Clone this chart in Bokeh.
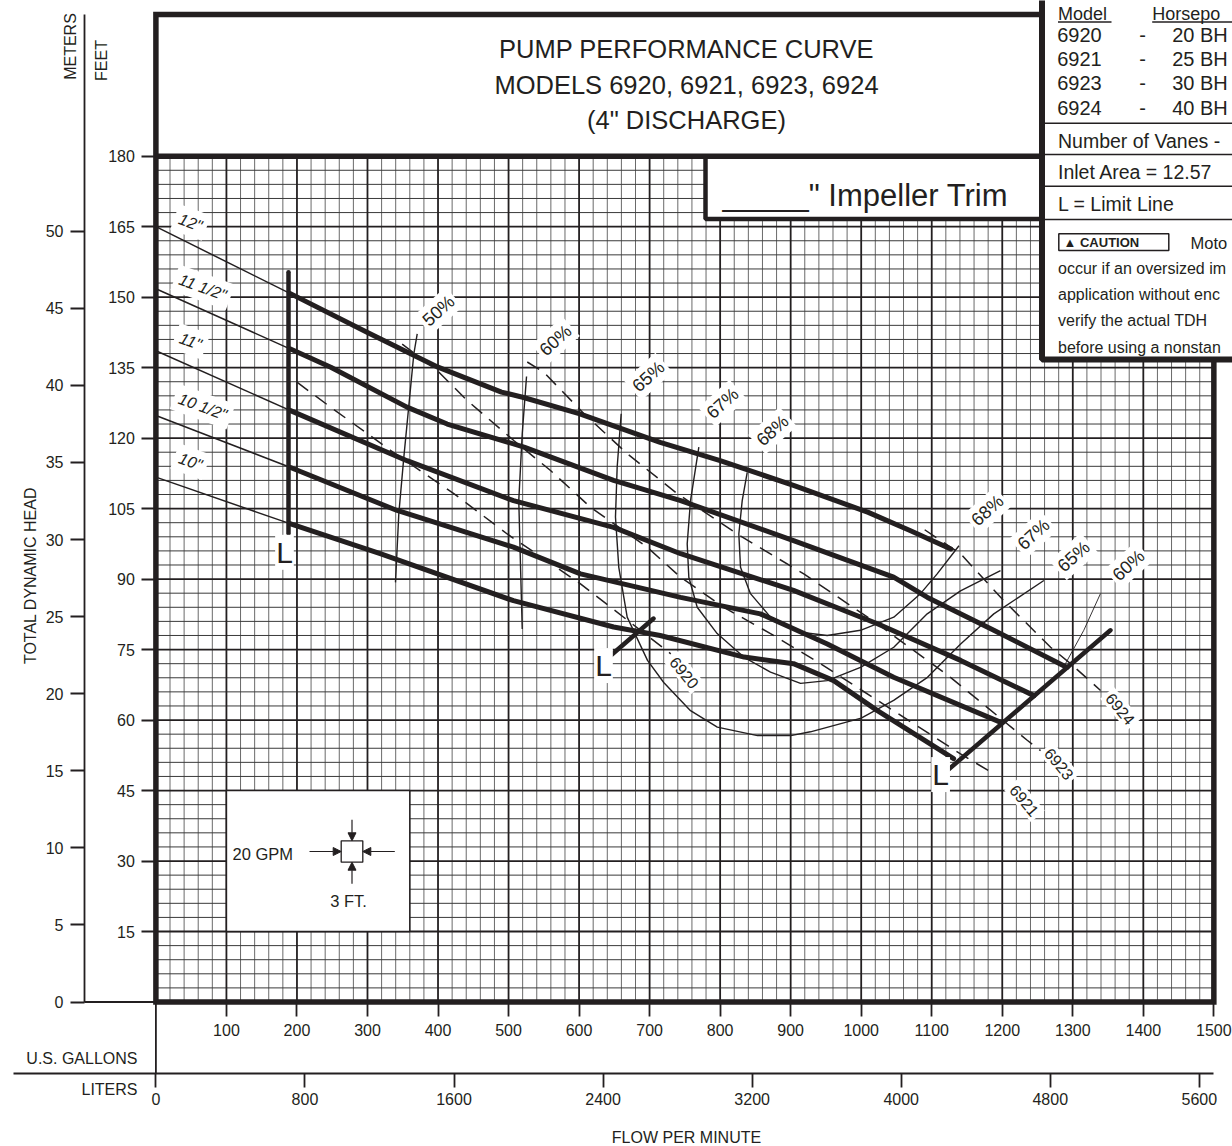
import numpy as np
from bokeh.plotting import figure
from bokeh.models import Range1d, LinearAxis, FixedTicker, Arrow, NormalHead
from bokeh.core.properties import value
from bokeh.embed import file_html
from bokeh.resources import INLINE

# ---------------- data ----------------
gpm_ticks = list(range(100, 1501, 100))
feet_ticks = list(range(15, 181, 15))
meter_ticks = list(range(0, 51, 5))
liter_ticks = list(range(0, 5601, 800))

diameters = ['12"', '11 1/2"', '11"', '10 1/2"', '10"']
gpm_12 = [0, 190, 300, 400, 490, 520, 600, 715, 800, 905, 1010, 1070, 1127]
ft_12 = [165, 150.8, 142.5, 135.1, 129.8, 128.7, 125.2, 119.1, 115.2, 109.9, 104.2, 100.3, 96.4]
gpm_115 = [0, 190, 248, 356, 413, 522, 649, 744, 904, 1046, 1094, 1188, 1292]
ft_115 = [151.8, 139.0, 135.1, 126.6, 123.0, 118.1, 111.0, 106.7, 98.2, 90.4, 86.1, 79.1, 71.2]
gpm_11 = [0, 190, 356, 507, 649, 744, 904, 1023, 1141, 1245]
ft_11 = [138.6, 125.9, 115.2, 106.7, 101.0, 95.4, 87.6, 80.5, 72.7, 65.2]
gpm_105 = [0, 190, 342, 507, 602, 744, 857, 952, 1046, 1198]
ft_105 = [124.8, 113.8, 104.6, 96.8, 91.1, 86.1, 82.6, 76.2, 69.1, 59.5]
gpm_10 = [0, 190, 318, 507, 649, 715, 834, 904, 961, 1023, 1131]
ft_10 = [111.7, 101.8, 95.4, 85.4, 79.8, 78.0, 73.4, 72.0, 68.4, 62.0, 51.8]

eff50_gpm = [370.5, 365.7, 351.5, 344.4, 339.7]
eff50_ft = [142.2, 137.9, 115.9, 103.9, 89.3]
eff60_gpm = [525.5, 519.4, 514.5, 517.0, 519.4]
eff60_ft = [133.1, 120.9, 106.7, 92.5, 79.4]
eff60b_gpm = [1289.6, 1315.6, 1339.2]
eff60b_ft = [72.0, 79.1, 86.9]
eff65_gpm = [659.7, 654.0, 651.6, 656.3, 668.2, 697, 720, 758, 796, 853, 900, 928, 1000, 1046, 1094, 1141, 1188, 1259]
eff65_ft = [125.2, 113.8, 103.2, 92.5, 81.9, 72.7, 68.0, 62.0, 58.5, 56.7, 56.7, 57.5, 60.4, 64.2, 69.1, 76.2, 82.6, 89.7]
eff67_gpm = [769.8, 758, 753.3, 755.6, 767.5, 795.8, 833.5, 871.4, 914, 951.8, 999, 1046.2, 1093.6, 1140.8, 1197.5]
eff67_ft = [118.1, 106.7, 97.5, 90.4, 84.0, 78.4, 73.4, 70.2, 67.8, 68.4, 71.2, 75.5, 82.6, 87.5, 91.8]
eff68_gpm = [838.4, 831.3, 826.5, 828.9, 843, 871.4, 914, 951.8, 999, 1046.2, 1084, 1107.7, 1138.6]
eff68_ft = [112.7, 106.7, 99.6, 92.5, 86.9, 81.9, 78.7, 78.0, 79.1, 81.9, 86.9, 91.1, 97.1]

models = ["6920", "6921", "6923", "6924"]
hp_6920_gpm = [200, 247.6, 332.6, 422.4, 498.1, 602, 687.1, 730]
hp_6920_ft = [131.9, 126.6, 117.4, 108.2, 99.6, 89.0, 79.1, 74.1]
hp_6921_gpm = [349.2, 398.8, 441.4, 507.4, 559.5, 616.2, 696.6, 743.8, 805.2, 871.4, 942.3, 1140.8, 1187.6]
hp_6921_ft = [140.0, 134.4, 128.0, 119.5, 113.1, 105.3, 96.8, 90.4, 84.0, 78.4, 72.0, 52.8, 48.6]
hp_6923_gpm = [526.5, 550, 606.3, 668.2, 739.1, 824.2, 918.6, 1022.7, 1126.6, 1235.4, 1254.3]
hp_6923_ft = [136.2, 134.0, 125.3, 116.7, 108.2, 99.6, 91.1, 80.5, 69.1, 55.7, 53.5]
hp_6924_gpm = [1090, 1140.8, 1202.2, 1268.5, 1296.9, 1339.4]
hp_6924_ft = [100.5, 95.4, 85.4, 75.5, 72.0, 66.3]

limit_left_gpm = [188, 188]
limit_left_ft = [155.3, 99.7]
limit_mid_gpm = [640, 705.6]
limit_mid_ft = [73.1, 81.6]
limit_right_gpm = [1117, 1353.4]
limit_right_ft = [48.6, 79.1]

eff_labels = ["50%", "60%", "65%", "67%", "68%", "68%", "67%", "65%", "60%"]
eff_label_gpm = [400.8, 566.6, 698.4, 803.4, 874.3, 1179, 1244.3, 1301.2, 1379]
eff_label_ft = [147.1, 140.8, 133.1, 127.4, 121.6, 104.6, 99.5, 94.8, 92.9]
model_label_gpm = [749.4, 1231.5, 1280.8, 1367.6]
model_label_ft = [70.1, 42.9, 50.7, 62.4]
dia_label_gpm = [49.1, 66.4, 49.1, 66.4, 49.1]
dia_label_ft = [165.9, 152.1, 140.6, 126.7, 115.0]
limit_label_gpm = [182.3, 634.6, 1112.6]
limit_label_ft = [95.7, 71.6, 48.4]

legend_models = ["6920", "6921", "6923", "6924"]
legend_hp = ["20 BH", "25 BH", "30 BH", "40 BH"]
caution_lines = ["occur if an oversized im", "application without enc", "verify  the  actual  TDH", "before using a nonstan"]

# ---------------- layout helpers (picture pixel -> data) ----------------
W, H = 1232, 1146
PX_GPM = 0.7053
PX_FT = 4.699
def gx(X):
    return (X - 155.4) / PX_GPM
def fy(Y):
    return (1001.5 - Y) / PX_FT

INK = "#231f20"
SANS = "Liberation Sans"
GAL_TO_L = 3.78541
FT_TO_M = 1 / 3.28084

p = figure(width=W, height=H, x_range=Range1d(gx(0), gx(W)), y_range=Range1d(fy(H), fy(0)),
           output_backend="svg", toolbar_location=None, x_axis_location=None, y_axis_location=None,
           min_border=0, outline_line_color=None, background_fill_color="white", border_fill_color="white")
p.xgrid.grid_line_color = None
p.ygrid.grid_line_color = None

# ---------------- grid ----------------
minor_x = [g for g in range(0, 1501, 20) if g % 100]
major_x = list(range(0, 1501, 100))
minor_y = [f for f in range(0, 181, 3) if f % 15]
major_y = list(range(0, 181, 15))
p.segment(x0=minor_x, y0=0, x1=minor_x, y1=180, line_color="#6a6a6a", line_width=1.0)
p.segment(x0=0, y0=minor_y, x1=1500, y1=minor_y, line_color="#3a3a3a", line_width=1.0)
p.segment(x0=major_x, y0=0, x1=major_x, y1=180, line_color=INK, line_width=1.8)
p.segment(x0=0, y0=major_y, x1=1500, y1=major_y, line_color=INK, line_width=1.8)

# ---------------- scale box ----------------
p.quad(left=100, right=360, bottom=15, top=45, fill_color="white", line_color=INK, line_width=1.5)
p.quad(left=gx(340.7), right=gx(362.3), bottom=fy(861.7), top=fy(840.3), fill_color="white", line_color=INK, line_width=1.3)
head = dict(size=8, fill_color=INK, line_color=INK)
for xs, ys, xe, ye in [(gx(309), fy(851), gx(340.7), fy(851)), (gx(394.3), fy(851), gx(362.3), fy(851)),
                       (gx(351.5), fy(819.3), gx(351.5), fy(840.3)), (gx(351.5), fy(883.3), gx(351.5), fy(861.7))]:
    p.add_layout(Arrow(end=NormalHead(**head), x_start=xs, y_start=ys, x_end=xe, y_end=ye, line_color=INK, line_width=1.2))
p.text(x=[gx(232)], y=[fy(853)], text=["20 GPM"], text_font=value(SANS), text_font_size="16.5px",
       text_color=INK, text_align="left", text_baseline="middle")
p.text(x=[gx(348)], y=[fy(900)], text=["3 FT."], text_font=value(SANS), text_font_size="16.5px",
       text_color=INK, text_align="center", text_baseline="middle")

# ---------------- head curves ----------------
curves = [(gpm_12, ft_12), (gpm_115, ft_115), (gpm_11, ft_11), (gpm_105, ft_105), (gpm_10, ft_10)]
for gs, fs in curves:
    thin_g = [g for g in gs if g <= 190]
    thin_f = fs[:len(thin_g)]
    thick_g = [g for g in gs if g >= 190]
    thick_f = fs[len(gs) - len(thick_g):]
    p.line(thin_g, thin_f, line_color=INK, line_width=1.5)
    p.line(thick_g, thick_f, line_color=INK, line_width=5, line_join="round", line_cap="round")

# efficiency curves
for gs, fs in [(eff50_gpm, eff50_ft), (eff60_gpm, eff60_ft), (eff65_gpm, eff65_ft), (eff67_gpm, eff67_ft), (eff68_gpm, eff68_ft)]:
    p.line(gs, fs, line_color=INK, line_width=1.4)
p.line(eff60b_gpm, eff60b_ft, line_color=INK, line_width=0.9)

# model HP lines (dashed)
for gs, fs in [(hp_6920_gpm, hp_6920_ft), (hp_6921_gpm, hp_6921_ft), (hp_6923_gpm, hp_6923_ft), (hp_6924_gpm, hp_6924_ft)]:
    p.line(gs, fs, line_color=INK, line_width=1.5, line_dash="14 9")

# limit lines
for gs, fs in [(limit_left_gpm, limit_left_ft), (limit_mid_gpm, limit_mid_ft), (limit_right_gpm, limit_right_ft)]:
    p.line(gs, fs, line_color=INK, line_width=4.5, line_cap="round")

# labels
p.text(x=dia_label_gpm, y=dia_label_ft, text=diameters, angle=-20, angle_units="deg",
       text_font=value(SANS), text_font_style="italic", text_font_size="16px", text_color=INK,
       text_align="center", text_baseline="middle", background_fill_color="white", padding=5)
p.text(x=eff_label_gpm, y=eff_label_ft, text=eff_labels, angle=42, angle_units="deg",
       text_font=value(SANS), text_font_size="18px", text_color=INK,
       text_align="center", text_baseline="middle", background_fill_color="white", padding=3)
p.text(x=model_label_gpm, y=model_label_ft, text=models, angle=-50, angle_units="deg",
       text_font=value(SANS), text_font_size="16px", text_color=INK,
       text_align="center", text_baseline="middle", background_fill_color="white", padding=3)
p.text(x=limit_label_gpm, y=limit_label_ft, text=["L", "L", "L"],
       text_font=value(SANS), text_font_size="30px", text_color=INK,
       text_align="center", text_baseline="middle", background_fill_color="white", padding=1)

# ---------------- frames / boxes ----------------
TOP = fy(14)
LEG_X = gx(1041.5)
LEG_BOT = fy(359)
p.quad(left=gx(705), right=LEG_X, bottom=fy(218.5), top=180, fill_color="white", line_color=INK, line_width=4.5)
p.line([LEG_X, 0, 0, 1500, 1500], [TOP, TOP, 0, 0, LEG_BOT], line_color=INK, line_width=5.5, line_join="miter")
p.line([0, LEG_X], [180, 180], line_color=INK, line_width=5.5)
p.quad(left=LEG_X, right=gx(1300), bottom=LEG_BOT, top=fy(-20), fill_color="white", line_color=INK, line_width=6)

# title
p.text(x=[gx(686)] * 3, y=[fy(48), fy(84), fy(119)],
       text=["PUMP PERFORMANCE CURVE", "MODELS 6920, 6921, 6923, 6924", '(4" DISCHARGE)'],
       text_font=value(SANS), text_font_size="25.5px", text_color=INK, text_align="center", text_baseline="middle")
p.text(x=[gx(722)], y=[fy(195)], text=['_____" Impeller Trim'], text_font=value(SANS), text_font_size="31px",
       text_color=INK, text_align="left", text_baseline="alphabetic")

# legend contents
LX = gx(1057.5)
p.text(x=[LX, gx(1151.7)], y=[fy(13)] * 2, text=["Model", "Horsepo"], text_font=value(SANS), text_font_size="18px",
       text_color=INK, text_align="left", text_baseline="middle")
p.segment(x0=[LX, gx(1151.7)], y0=fy(21.5), x1=[gx(1111), gx(1240)], y1=fy(21.5), line_color=INK, line_width=1.5)
row_y = [fy(34), fy(58), fy(82.5), fy(107)]
p.text(x=[gx(1056.7)] * 4, y=row_y, text=legend_models, text_font=value(SANS), text_font_size="20px",
       text_color=INK, text_align="left", text_baseline="middle")
p.text(x=[gx(1142)] * 4, y=row_y, text=["-"] * 4, text_font=value(SANS), text_font_size="20px",
       text_color=INK, text_align="center", text_baseline="middle")
p.text(x=[gx(1171.7)] * 4, y=row_y, text=legend_hp, text_font=value(SANS), text_font_size="20px",
       text_color=INK, text_align="left", text_baseline="middle")
p.segment(x0=LEG_X, y0=[fy(122.7), fy(154), fy(185.7), fy(219)], x1=gx(1300), y1=[fy(122.7), fy(154), fy(185.7), fy(219)],
          line_color=INK, line_width=1.5)
p.text(x=[LX] * 3, y=[fy(140), fy(171.5), fy(203)], text=["Number of Vanes -", "Inlet Area = 12.57", "L = Limit Line"],
       text_font=value(SANS), text_font_size="19.5px", text_color=INK, text_align="left", text_baseline="middle")
p.quad(left=gx(1058.3), right=gx(1168.3), bottom=fy(250), top=fy(233.3), fill_color="white", line_color=INK, line_width=1.5)
p.text(x=[gx(1063)], y=[fy(242)], text=["\u25B2 CAUTION"], text_font=value(SANS), text_font_style="bold",
       text_font_size="13px", text_color=INK, text_align="left", text_baseline="middle")
p.text(x=[gx(1190)], y=[fy(242)], text=["Moto"], text_font=value(SANS), text_font_size="16.5px",
       text_color=INK, text_align="left", text_baseline="middle")
p.text(x=[LX] * 4, y=[fy(268), fy(294), fy(320), fy(347)], text=caution_lines, text_font=value(SANS),
       text_font_size="16px", text_color=INK, text_align="left", text_baseline="middle")

# ---------------- axes ----------------
lab = dict(major_label_text_font=SANS, major_label_text_font_size="16px", major_label_text_color=INK,
           major_tick_line_color=INK, major_tick_line_width=1.8, major_tick_in=0, major_tick_out=14,
           minor_tick_line_color=None)
ax_ft = LinearAxis(fixed_location=0, ticker=FixedTicker(ticks=feet_ticks), axis_line_color=None,
                   major_label_standoff=7, **lab)
p.add_layout(ax_ft, "left")

p.extra_y_ranges = {"m": Range1d(fy(H) * FT_TO_M, fy(0) * FT_TO_M)}
ax_m = LinearAxis(y_range_name="m", fixed_location=gx(84), ticker=FixedTicker(ticks=meter_ticks),
                  axis_line_color=INK, axis_line_width=1.8, bounds=(0, TOP * FT_TO_M), major_label_standoff=7, **lab)
p.add_layout(ax_m, "left")
p.segment(x0=[gx(84)], y0=[0], x1=[0], y1=[0], line_color=INK, line_width=1.8)

ax_g = LinearAxis(fixed_location=0, ticker=FixedTicker(ticks=gpm_ticks), axis_line_color=None,
                  major_label_standoff=8, **lab)
p.add_layout(ax_g, "below")

p.extra_x_ranges = {"L": Range1d(gx(0) * GAL_TO_L, gx(W) * GAL_TO_L)}
ax_l = LinearAxis(x_range_name="L", fixed_location=fy(1072.7), ticker=FixedTicker(ticks=liter_ticks),
                  axis_line_color=INK, axis_line_width=1.8, bounds=(gx(13) * GAL_TO_L, 1500 * GAL_TO_L),
                  major_label_standoff=6, **lab)
p.add_layout(ax_l, "below")
p.segment(x0=[0], y0=[0], x1=[0], y1=[fy(1072.7)], line_color=INK, line_width=1.8)

# axis titles
p.text(x=[gx(69.5), gx(100.5), gx(30)], y=[fy(46), fy(60), fy(575)], text=["METERS", "FEET", "TOTAL DYNAMIC HEAD"],
       angle=90, angle_units="deg", text_font=value(SANS), text_font_size="16px", text_color=INK,
       text_align="center", text_baseline="middle")
p.text(x=[gx(137), gx(137)], y=[fy(1057.5), fy(1089)], text=["U.S. GALLONS", "LITERS"],
       text_font=value(SANS), text_font_size="16px", text_color=INK, text_align="right", text_baseline="middle")
p.text(x=[gx(686)], y=[fy(1137)], text=["FLOW PER MINUTE"], text_font=value(SANS), text_font_size="16px",
       text_color=INK, text_align="center", text_baseline="middle")

open("out.html", "w").write(file_html(p, INLINE))
